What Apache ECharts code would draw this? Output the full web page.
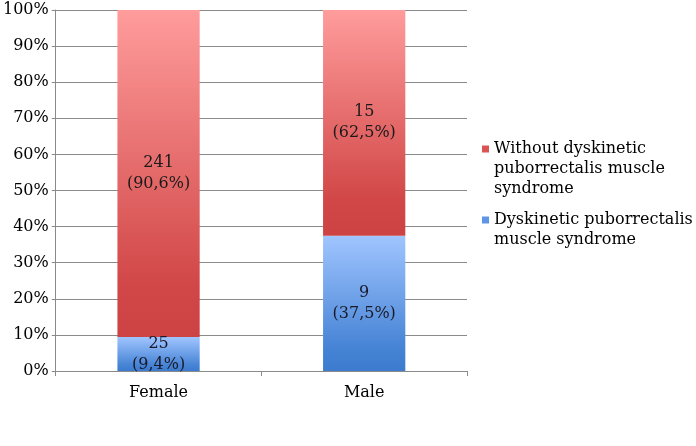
<!DOCTYPE html>
<html>
<head>
<meta charset="utf-8">
<script src="https://cdn.jsdelivr.net/npm/echarts@6/dist/echarts.min.js"></script>
<style>
html,body{margin:0;padding:0;background:#fff;}
#c{width:696px;height:446px;}
</style>
</head>
<body>
<div id="c"></div>
<script>
var categories = ['Female', 'Male'];
var seriesNames = ['Dyskinetic puborrectalis\nmuscle syndrome', 'Without dyskinetic\npuborrectalis muscle\nsyndrome'];
var dyskineticCounts = [25, 9];
var dyskineticPct = [9.4, 37.5];
var withoutCounts = [241, 15];
var withoutPct = [90.6, 62.5];
var yTicks = [0, 10, 20, 30, 40, 50, 60, 70, 80, 90, 100];

var FONT = 'DejaVu Serif';
function grad(c0, c1, c2) {
  return new echarts.graphic.LinearGradient(0, 0, 0, 1, [
    {offset: 0, color: c0}, {offset: 0.85, color: c1}, {offset: 1, color: c2}
  ]);
}
function fmtPct(v) { return v.toFixed(1).replace('.', ',') + '%'; }

var chart = echarts.init(document.getElementById('c'), null, {renderer: 'canvas'});
chart.setOption({
  animation: false,
  backgroundColor: '#ffffff',
  textStyle: {fontFamily: FONT},
  grid: {left: 55, right: 229, top: 10, bottom: 75},
  legend: {
    orient: 'vertical',
    left: 482,
    top: 99,
    padding: 0,
    itemGap: -9,
    itemWidth: 7,
    itemHeight: 7,
    icon: 'rect',
    data: [
      {name: seriesNames[1], itemStyle: {color: '#DA5454'}},
      {name: seriesNames[0], itemStyle: {color: '#5E95E6'}}
    ],
    formatter: function (name) {
      // leading blank lines keep the marker beside the first text line
      return name === seriesNames[1] ? '\n\n' + name : '\n' + name;
    },
    textStyle: {fontFamily: FONT, fontSize: 16, color: '#000', lineHeight: 20}
  },
  xAxis: {
    type: 'category',
    data: categories,
    axisLine: {lineStyle: {color: '#8a8a8a', width: 1}},
    axisTick: {show: true, length: 5, lineStyle: {color: '#8a8a8a'}},
    axisLabel: {fontFamily: FONT, fontSize: 16, color: '#000', margin: 14}
  },
  yAxis: {
    type: 'value',
    min: yTicks[0],
    max: yTicks[yTicks.length - 1],
    interval: 10,
    axisLine: {show: true, lineStyle: {color: '#8a8a8a', width: 1}},
    axisTick: {show: true, length: 4, lineStyle: {color: '#8a8a8a'}},
    axisLabel: {fontFamily: FONT, fontSize: 16, color: '#000', margin: 7, formatter: '{value}%'},
    splitLine: {show: true, lineStyle: {color: '#8a8a8a', width: 1}}
  },
  series: [
    {
      name: seriesNames[0],
      type: 'bar',
      stack: 'total',
      barWidth: '40%',
      data: dyskineticPct,
      itemStyle: {color: grad('#A0C5FF', '#4482D4', '#3D7BCF')},
      label: {
        show: true, position: 'inside',
        fontFamily: FONT, fontSize: 16, color: '#1a1a2a', lineHeight: 21,
        formatter: function (p) { return dyskineticCounts[p.dataIndex] + '\n(' + fmtPct(dyskineticPct[p.dataIndex]) + ')'; }
      }
    },
    {
      name: seriesNames[1],
      type: 'bar',
      stack: 'total',
      barWidth: '40%',
      data: withoutPct,
      itemStyle: {color: grad('#FF9C9C', '#D14646', '#CD4242')},
      label: {
        show: true, position: 'inside',
        fontFamily: FONT, fontSize: 16, color: '#1a1a1a', lineHeight: 21,
        formatter: function (p) { return withoutCounts[p.dataIndex] + '\n(' + fmtPct(withoutPct[p.dataIndex]) + ')'; }
      }
    }
  ]
});
</script>
</body>
</html>
